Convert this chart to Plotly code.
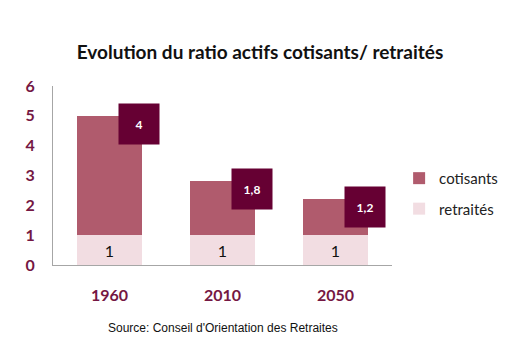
import plotly.graph_objects as go

years = ["1960", "2010", "2050"]
retraites = [1, 1, 1]
cotisants = [4, 1.8, 1.2]
cotisants_labels = ["4", "1,8", "1,2"]
retraites_labels = ["1", "1", "1"]

MAROON = "#751743"
fig = go.Figure()
fig.add_trace(go.Bar(
    x=years, y=retraites, name="retraités", marker_color="#f2dde2",
    marker_line_width=0, text=retraites_labels, textposition="inside",
    insidetextanchor="middle", textfont=dict(color="#111111", size=16, family="Lato"),
    legendgroup="r", legendrank=2, hoverinfo="skip"))
fig.add_trace(go.Bar(
    x=years, y=cotisants, name="cotisants", marker_color="#b05b6d",
    marker_line_width=0, legendgroup="c", legendrank=1, hoverinfo="skip"))

for i, (r, c, lab) in enumerate(zip(retraites, cotisants, cotisants_labels)):
    fig.add_annotation(x=i, y=r + c, text="<b>" + lab + "</b>", showarrow=False, xshift=29, yshift=-8,
                       width=38, height=38, bgcolor="#660033", align="center", valign="middle",
                       font=dict(color="white", size=12, family="Lato"))

fig.add_annotation(x=0.5, y=-(328 - 265) / 179, xref="paper", yref="paper", xanchor="center",
                   yanchor="middle", text="Source: Conseil d'Orientation des Retraites", showarrow=False,
                   font=dict(family="Liberation Sans", size=12, color="#111111"))

fig.update_layout(
    width=520, height=348, barmode="stack", bargap=0.42,
    paper_bgcolor="white", plot_bgcolor="white",
    margin=dict(l=53, r=128, t=86, b=83),
    title=dict(text="<b>Evolution du ratio actifs cotisants/ retraités</b>", x=0.5, xanchor="center",
               y=1 - 52/348, yanchor="middle", font=dict(family="Lato", size=19, color="#111111")),
    legend=dict(x=1.021, y=0.40, xanchor="left", yanchor="middle", traceorder="grouped",
                tracegroupgap=8, font=dict(family="Lato", size=15, color="#222222"),
                bgcolor="rgba(0,0,0,0)"),
    showlegend=True,
)
fig.update_yaxes(range=[0, 6], dtick=1, showgrid=False, zeroline=False, showline=True,
                 linecolor="#a6a6a6", linewidth=1, ticks="", ticklabelstandoff=14,
                 tickfont=dict(family="Lato", size=16, color=MAROON, weight="bold"))
fig.update_xaxes(type="category", range=[-0.5, 2.5], showgrid=False, showline=True,
                 linecolor="#a6a6a6", linewidth=1,
                 ticks="", ticklabelstandoff=16,
                 tickfont=dict(family="Lato", size=16, color=MAROON, weight="bold"))

fig.write_html("out.html")
